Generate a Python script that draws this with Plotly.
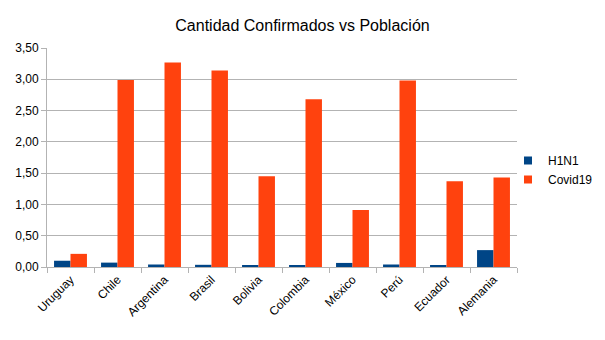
import plotly.graph_objects as go

paises = ["Uruguay", "Chile", "Argentina", "Brasil", "Bolivia",
          "Colombia", "México", "Perú", "Ecuador", "Alemania"]
h1n1 = [0.10, 0.07, 0.04, 0.035, 0.03, 0.02, 0.065, 0.04, 0.025, 0.27]
covid19 = [0.21, 2.99, 3.27, 3.14, 1.45, 2.68, 0.91, 2.98, 1.37, 1.43]
y_ticks = [0, 0.5, 1.0, 1.5, 2.0, 2.5, 3.0, 3.5]

FONT = "Liberation Sans, Arial, sans-serif"
GRID = "#b3b3b3"
series = [("H1N1", h1n1, "#004586"), ("Covid19", covid19, "#ff420e")]

fig = go.Figure()
for name, vals, color in series:
    fig.add_trace(go.Bar(name=name, x=paises, y=vals, marker_color=color,
                         marker_line_width=0, showlegend=False))
# small square legend keys
for name, vals, color in series:
    fig.add_trace(go.Scatter(name=name, x=[None], y=[None], mode="markers",
                             marker=dict(symbol="square", size=8, color=color),
                             showlegend=True))

fig.update_layout(
    width=605, height=340,
    margin=dict(l=47, r=88, t=48, b=73, autoexpand=False),
    paper_bgcolor="white", plot_bgcolor="white",
    separators=",.",
    barmode="group", bargap=0.3, bargroupgap=0,
    font=dict(family=FONT, size=12, color="black"),
    title=dict(text="Cantidad Confirmados vs Población", x=0.5, xref="container",
               xanchor="center", y=0.925, yref="container", yanchor="middle",
               font=dict(size=16, family=FONT, color="black")),
    showlegend=True,
    legend=dict(x=508 / 605, xref="container", xanchor="left",
                y=0.5, yref="container", yanchor="middle",
                font=dict(size=12, family=FONT), itemwidth=30,
                tracegroupgap=0, bgcolor="rgba(0,0,0,0)"),
)

fig.update_xaxes(
    type="category", tickangle=-45, showgrid=False,
    showline=True, linecolor=GRID, linewidth=1,
    ticks="outside", tickson="boundaries", ticklen=5, tickcolor=GRID,
    tickfont=dict(size=12, family=FONT),
)
fig.update_yaxes(
    range=[0, 3.5], tickvals=y_ticks, tickformat=".2f",
    showgrid=True, gridcolor=GRID, gridwidth=1,
    showline=True, linecolor=GRID, linewidth=1, mirror=False,
    ticks="outside", ticklen=5, tickcolor=GRID, zeroline=False,
    tickfont=dict(size=12, family=FONT),
)

fig.write_html("out.html")
